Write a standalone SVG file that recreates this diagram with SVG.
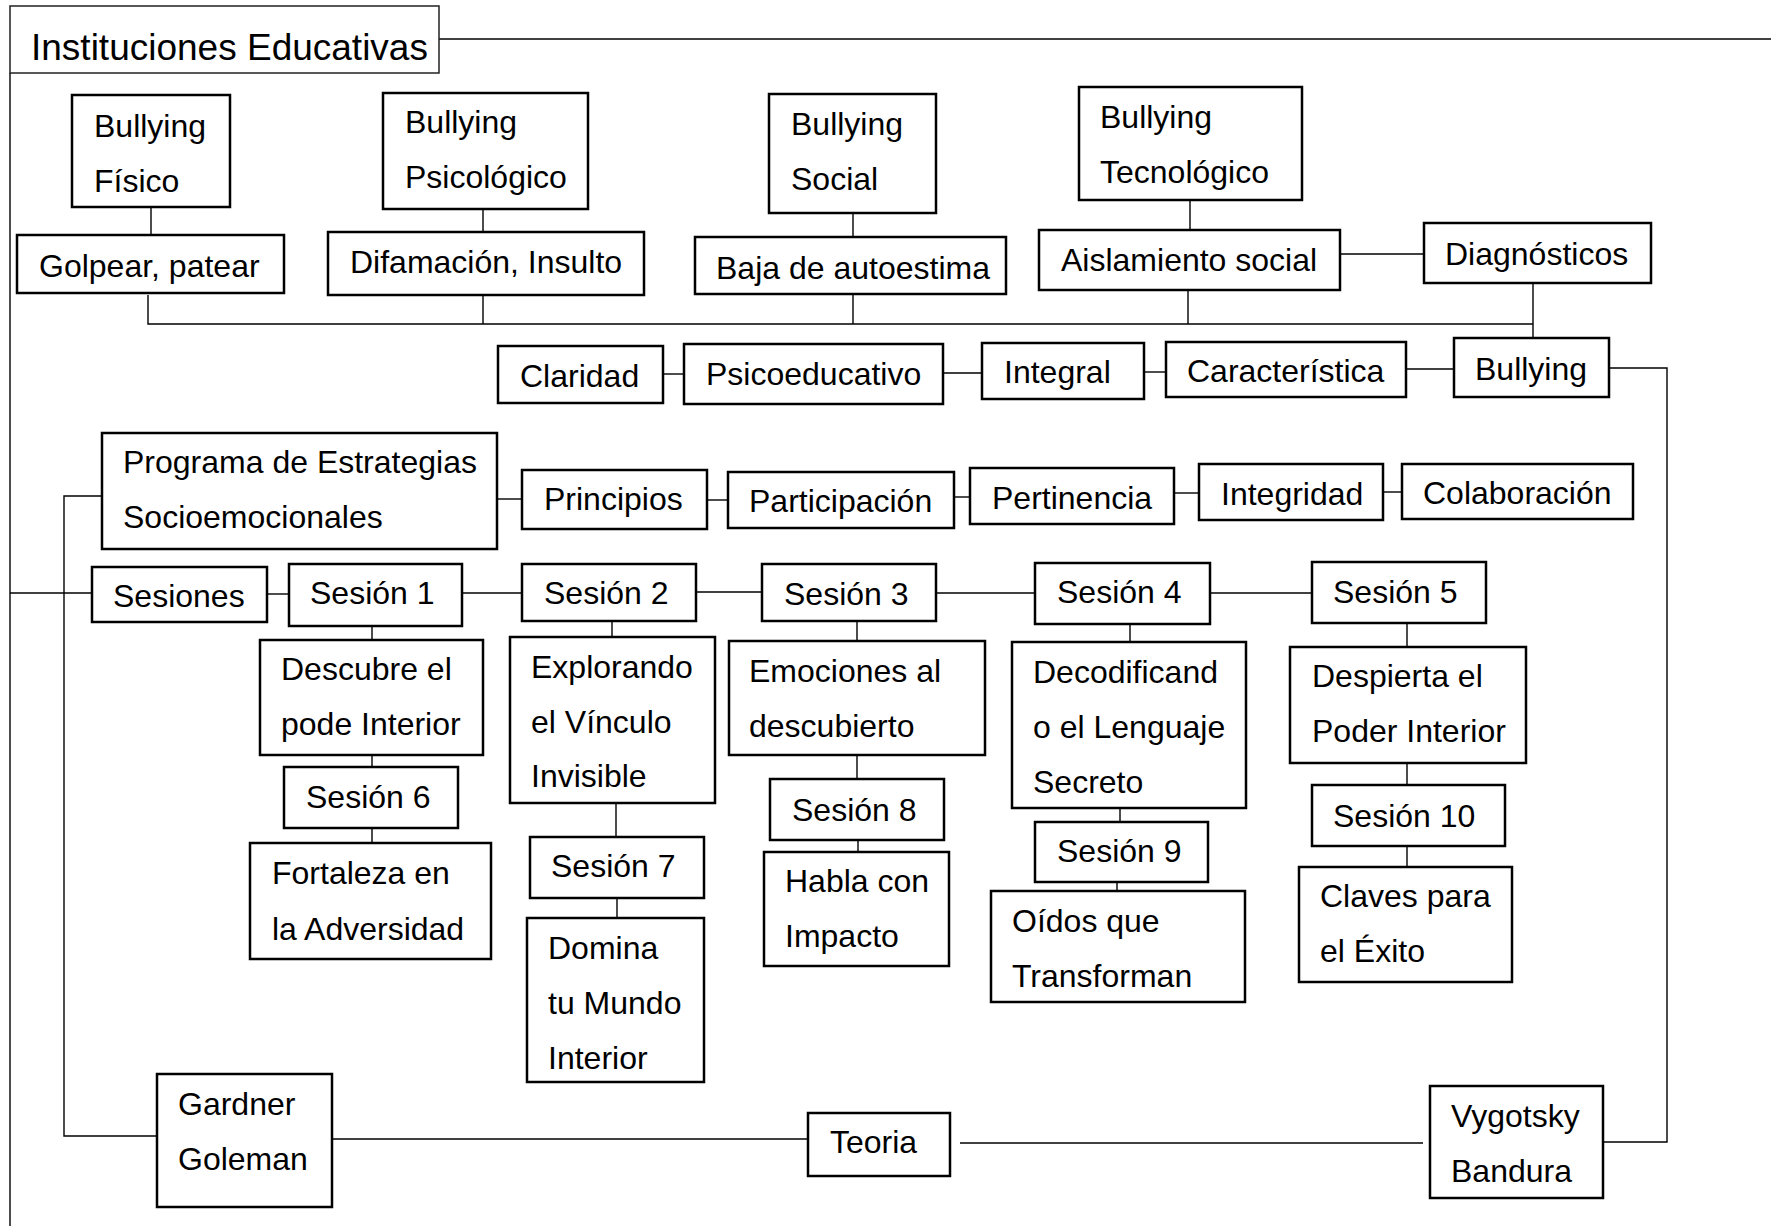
<svg xmlns="http://www.w3.org/2000/svg" width="1771" height="1228" viewBox="0 0 1771 1228">
<style>
.n rect{fill:#fff;stroke:#000;stroke-width:2.5}
.n text{font-family:"Liberation Sans",Arial,sans-serif;font-size:32px;fill:#000}
#title rect{stroke-width:1.5;stroke:#222}
#title text{font-size:37px}
#connectors path{fill:none;stroke:#000;stroke-width:1.4}
</style>
<rect width="1771" height="1228" fill="#fff"/>
<g id="connectors">
<path d="M439,39 H1771"/>
<path d="M10,73 V1226"/>
<path d="M151,207 V235"/>
<path d="M483,209 V232"/>
<path d="M853,213 V237"/>
<path d="M1190,200 V230"/>
<path d="M1340,254 H1424"/>
<path d="M148,295 V324 H1533"/>
<path d="M483,295 V324"/>
<path d="M853,294 V324"/>
<path d="M1188,290 V324"/>
<path d="M1533,283 V338"/>
<path d="M663,374 H684"/>
<path d="M943,373 H982"/>
<path d="M1144,372 H1166"/>
<path d="M1406,369 H1454"/>
<path d="M1609,368 H1667 V1142 H1597"/>
<path d="M102,496 H64 V1136 H157"/>
<path d="M497,499 H522"/>
<path d="M707,500 H728"/>
<path d="M954,497 H970"/>
<path d="M1174,493 H1199"/>
<path d="M1383,492 H1402"/>
<path d="M10,593 H92"/>
<path d="M267,594 H289"/>
<path d="M462,593 H522"/>
<path d="M696,592 H762"/>
<path d="M936,593 H1035"/>
<path d="M1210,593 H1312"/>
<path d="M372,626 V640"/>
<path d="M372,755 V767"/>
<path d="M372,828 V843"/>
<path d="M612,621 V637"/>
<path d="M616,803 V837"/>
<path d="M617,898 V918"/>
<path d="M857,621 V641"/>
<path d="M857,755 V779"/>
<path d="M858,840 V852"/>
<path d="M1130,624 V642"/>
<path d="M1120,808 V822"/>
<path d="M1117,882 V891"/>
<path d="M1407,623 V647"/>
<path d="M1407,763 V785"/>
<path d="M1407,846 V867"/>
<path d="M332,1139 H808"/>
<path d="M960,1143 H1423"/>
</g>
<g id="title" class="n"><rect x="10" y="6" width="429" height="67"/><text x="31" y="60">Instituciones Educativas</text></g>
<g id="bf" class="n"><rect x="72" y="95" width="158" height="112"/><text x="94" y="137">Bullying</text><text x="94" y="192">Físico</text></g>
<g id="golpear" class="n"><rect x="17" y="235" width="267" height="58"/><text x="39" y="277">Golpear, patear</text></g>
<g id="bp" class="n"><rect x="383" y="93" width="205" height="116"/><text x="405" y="133">Bullying</text><text x="405" y="188">Psicológico</text></g>
<g id="difam" class="n"><rect x="328" y="232" width="316" height="63"/><text x="350" y="273">Difamación, Insulto</text></g>
<g id="bs" class="n"><rect x="769" y="94" width="167" height="119"/><text x="791" y="135">Bullying</text><text x="791" y="190">Social</text></g>
<g id="baja" class="n"><rect x="695" y="237" width="311" height="57"/><text x="716" y="279">Baja de autoestima</text></g>
<g id="bt" class="n"><rect x="1079" y="87" width="223" height="113"/><text x="1100" y="128">Bullying</text><text x="1100" y="183">Tecnológico</text></g>
<g id="aisl" class="n"><rect x="1039" y="230" width="301" height="60"/><text x="1061" y="271">Aislamiento social</text></g>
<g id="diag" class="n"><rect x="1424" y="223" width="227" height="60"/><text x="1445" y="265">Diagnósticos</text></g>
<g id="claridad" class="n"><rect x="498" y="346" width="165" height="57"/><text x="520" y="387">Claridad</text></g>
<g id="psico" class="n"><rect x="684" y="344" width="259" height="60"/><text x="706" y="385">Psicoeducativo</text></g>
<g id="integral" class="n"><rect x="982" y="343" width="162" height="56"/><text x="1004" y="383">Integral</text></g>
<g id="caract" class="n"><rect x="1166" y="342" width="240" height="55"/><text x="1187" y="382">Característica</text></g>
<g id="bullying" class="n"><rect x="1454" y="338" width="155" height="59"/><text x="1475" y="380">Bullying</text></g>
<g id="programa" class="n"><rect x="102" y="433" width="395" height="116"/><text x="123" y="473">Programa de Estrategias</text><text x="123" y="528">Socioemocionales</text></g>
<g id="principios" class="n"><rect x="522" y="470" width="185" height="59"/><text x="544" y="510">Principios</text></g>
<g id="participacion" class="n"><rect x="728" y="472" width="226" height="56"/><text x="749" y="512">Participación</text></g>
<g id="pertinencia" class="n"><rect x="970" y="468" width="204" height="56"/><text x="992" y="509">Pertinencia</text></g>
<g id="integridad" class="n"><rect x="1199" y="464" width="184" height="56"/><text x="1221" y="505">Integridad</text></g>
<g id="colaboracion" class="n"><rect x="1402" y="464" width="231" height="55"/><text x="1423" y="504">Colaboración</text></g>
<g id="sesiones" class="n"><rect x="92" y="567" width="175" height="55"/><text x="113" y="607">Sesiones</text></g>
<g id="s1" class="n"><rect x="289" y="564" width="173" height="62"/><text x="310" y="604">Sesión 1</text></g>
<g id="s2" class="n"><rect x="522" y="564" width="174" height="57"/><text x="544" y="604">Sesión 2</text></g>
<g id="s3" class="n"><rect x="762" y="564" width="174" height="57"/><text x="784" y="605">Sesión 3</text></g>
<g id="s4" class="n"><rect x="1035" y="563" width="175" height="61"/><text x="1057" y="603">Sesión 4</text></g>
<g id="s5" class="n"><rect x="1312" y="562" width="174" height="61"/><text x="1333" y="603">Sesión 5</text></g>
<g id="descubre" class="n"><rect x="260" y="640" width="223" height="115"/><text x="281" y="680">Descubre el</text><text x="281" y="735">pode Interior</text></g>
<g id="s6" class="n"><rect x="284" y="767" width="174" height="61"/><text x="306" y="808">Sesión 6</text></g>
<g id="fortaleza" class="n"><rect x="250" y="843" width="241" height="116"/><text x="272" y="884">Fortaleza en</text><text x="272" y="940">la Adversidad</text></g>
<g id="explorando" class="n"><rect x="510" y="637" width="205" height="166"/><text x="531" y="678">Explorando</text><text x="531" y="733">el Vínculo</text><text x="531" y="787">Invisible</text></g>
<g id="s7" class="n"><rect x="530" y="837" width="174" height="61"/><text x="551" y="877">Sesión 7</text></g>
<g id="domina" class="n"><rect x="527" y="918" width="177" height="164"/><text x="548" y="959">Domina</text><text x="548" y="1014">tu Mundo</text><text x="548" y="1069">Interior</text></g>
<g id="emociones" class="n"><rect x="729" y="641" width="256" height="114"/><text x="749" y="682">Emociones al</text><text x="749" y="737">descubierto</text></g>
<g id="s8" class="n"><rect x="770" y="779" width="174" height="61"/><text x="792" y="821">Sesión 8</text></g>
<g id="habla" class="n"><rect x="764" y="852" width="185" height="114"/><text x="785" y="892">Habla con</text><text x="785" y="947">Impacto</text></g>
<g id="decod" class="n"><rect x="1012" y="642" width="234" height="166"/><text x="1033" y="683">Decodificand</text><text x="1033" y="738">o el Lenguaje</text><text x="1033" y="793">Secreto</text></g>
<g id="s9" class="n"><rect x="1035" y="822" width="173" height="60"/><text x="1057" y="862">Sesión 9</text></g>
<g id="oidos" class="n"><rect x="991" y="891" width="254" height="111"/><text x="1012" y="932">Oídos que</text><text x="1012" y="987">Transforman</text></g>
<g id="despierta" class="n"><rect x="1290" y="647" width="236" height="116"/><text x="1312" y="687">Despierta el</text><text x="1312" y="742">Poder Interior</text></g>
<g id="s10" class="n"><rect x="1312" y="785" width="193" height="61"/><text x="1333" y="827">Sesión 10</text></g>
<g id="claves" class="n"><rect x="1299" y="867" width="213" height="115"/><text x="1320" y="907">Claves para</text><text x="1320" y="962">el Éxito</text></g>
<g id="gardner" class="n"><rect x="157" y="1074" width="175" height="133"/><text x="178" y="1115">Gardner</text><text x="178" y="1170">Goleman</text></g>
<g id="teoria" class="n"><rect x="808" y="1113" width="142" height="63"/><text x="830" y="1153">Teoria</text></g>
<g id="vygotsky" class="n"><rect x="1430" y="1086" width="173" height="112"/><text x="1451" y="1127">Vygotsky</text><text x="1451" y="1182">Bandura</text></g>
</svg>
